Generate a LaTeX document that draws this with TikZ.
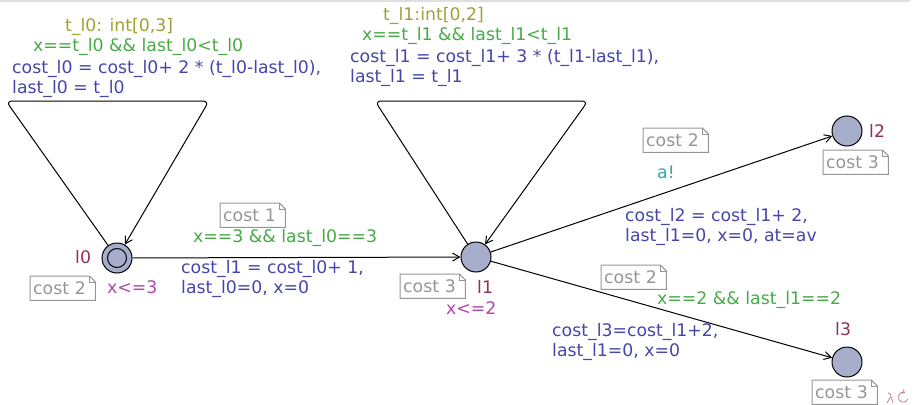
\documentclass[tikz,border=0pt]{standalone}
\usepackage{fontspec}
\setmainfont{DejaVu Sans}
\usetikzlibrary{arrows.meta,calc}
\definecolor{locfill}{RGB}{166,174,204}
\definecolor{namecol}{RGB}{150,45,90}
\definecolor{invcol}{RGB}{175,70,175}
\definecolor{selcol}{RGB}{160,160,55}
\definecolor{guardcol}{RGB}{70,170,70}
\definecolor{synccol}{RGB}{50,165,165}
\definecolor{assigncol}{RGB}{70,70,170}
\definecolor{notecol}{RGB}{150,150,150}
\definecolor{iconcol}{RGB}{200,130,140}

\begin{document}
\begin{tikzpicture}[x=1pt,y=-1pt,
        >={Straight Barb[length=7pt,width=8pt]},
        font=\fontsize{17.3}{20.5}\selectfont,
        loc/.style={circle, draw, fill=locfill, line width=1pt,
                minimum size=30pt, inner sep=0pt},
        edge/.style={->, line width=1pt},
        lbl/.style={anchor=base west, inner sep=0pt, align=left},
        locname/.style={lbl, text=namecol},
        inv/.style={lbl, text=invcol},
        select/.style={lbl, text=selcol},
        guard/.style={lbl, text=guardcol},
        sync/.style={lbl, text=synccol},
        assign/.style={lbl, text=assigncol},
        note/.style={anchor=north west, text=notecol, inner xsep=3pt,
                inner ysep=0pt, text width=59pt, minimum height=24pt, align=left}]

    \useasboundingbox (0,0) rectangle (917,404);
    \draw[gray!25, line width=2pt] (0,1) -- (910,1);

    % locations
    \node[loc] (l0) at (117,258) {};
    \draw[line width=1pt] (l0) circle[radius=9.5pt];
    \node[loc] (l1) at (476,257) {};
    \node[loc] (l2) at (847,131) {};
    \node[loc] (l3) at (847,362) {};

    \node[locname] (nl0) at (75,263) {l0};
    \node[locname] (nl1) at (477,293) {l1};
    \node[locname] (nl2) at (869,137) {l2};
    \node[locname] (nl3) at (835,335) {l3};

    \node[inv] (il0) at (107,293) {x<=3};
    \node[inv] (il1) at (446,314) {x<=2};

    % self loops
    \coordinate (k0a) at (6,101);
    \coordinate (k0b) at (209,101);
    \coordinate (k1a) at (375,101);
    \coordinate (k1b) at (588,101);
    \draw[edge, rounded corners=6pt] (l0) -- (k0a) -- (k0b) -- (l0);
    \draw[edge, rounded corners=6pt] (l1) -- (k1a) -- (k1b) -- (l1);

    % transitions
    \draw[edge] (l0) -- (l1);
    \draw[edge] (l1) -- (l2);
    \draw[edge] (l1) -- (l3);

    % labels (two-line nodes sit on their last line)
    \node[select] (s00) at (65,32) {t\_l0: int[0,3]};
    \node[guard] (g00) at (33,52) {x==t\_l0 \&\& last\_l0<t\_l0};
    \node[assign] (a00) at (12,93.5) {cost\_l0 = cost\_l0+ 2 * (t\_l0-last\_l0),\\last\_l0 = t\_l0};

    \node[select] (s11) at (383,21) {t\_l1:int[0,2]};
    \node[guard] (g11) at (362,41) {x==t\_l1 \&\& last\_l1<t\_l1};
    \node[assign] (a11) at (350,82.5) {cost\_l1 = cost\_l1+ 3 * (t\_l1-last\_l1),\\last\_l1 = t\_l1};

    \node[guard] (g01) at (193,242) {x==3 \&\& last\_l0==3};
    \node[assign] (a01) at (181,293.5) {cost\_l1 = cost\_l0+ 1,\\last\_l0=0, x=0};

    \node[sync] (y12) at (657,178) {a!};
    \node[assign] (a12) at (625,241.5) {cost\_l2 = cost\_l1+ 2,\\last\_l1=0, x=0, at=av};

    \node[guard] (g13) at (657,304) {x==2 \&\& last\_l1==2};
    \node[assign] (a13) at (552,356.5) {cost\_l3=cost\_l1+2,\\last\_l1=0, x=0};

    % cost notes
    \node[note] (cl0) at (30,276) {cost 2};
    \node[note] (cl1) at (400,274) {cost 3};
    \node[note] (cl2) at (823,150) {cost 3};
    \node[note] (cl3) at (812,380) {cost 3};
    \node[note] (c01) at (220,203) {cost 1};
    \node[note] (c12) at (643,128) {cost 2};
    \node[note] (c13) at (601,265) {cost 2};
    \foreach \n in {cl0,cl1,cl2,cl3,c01,c12,c13} {
        \draw[notecol, line width=1pt] (\n.south west) -- (\n.north west)
            -- ($(\n.north east)+(-6,0)$) -- ($(\n.north east)+(0,6)$)
            -- (\n.south east) -- cycle;
        \draw[notecol, line width=0.8pt] ($(\n.north east)+(-6,0)$)
            -- ($(\n.north east)+(-6,6)$) -- ($(\n.north east)+(0,6)$);
    }

    % small icons, cut by the page edge
    \draw[iconcol, line width=0.8pt] (888,393) .. controls (891,393) and (891,397) .. (893,403);
    \draw[iconcol, line width=0.8pt] (890.5,397) -- (887,403);
    \draw[iconcol, line width=0.8pt, -{Straight Barb[length=2.5pt,width=4pt]}]
        (908,399) arc[start angle=20, end angle=290, radius=5];
\end{tikzpicture}
\end{document}
